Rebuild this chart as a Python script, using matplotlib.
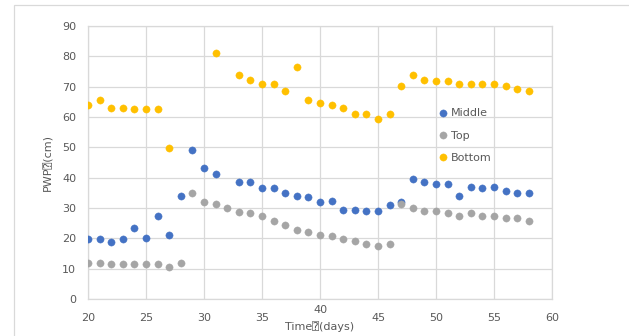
import numpy as np
from matplotlib import pyplot as plt
from matplotlib.patches import Rectangle

nan = np.nan

# measurement days
days = list(range(20, 59))

middle = [19.7, 19.7, 18.7, 19.7, 23.3, 20.2, 27.4, 21.2, 34.0, 49.2,
          43.2, 41.1, nan, 38.6, 38.6, 36.5, 36.5, 35.1, 34.0, 33.5,
          32.0, 32.4, 29.3, 29.3, 28.9, 28.9, 31.0, 32.0, 39.6, 38.6,
          38.0, 38.0, 34.0, 37.0, 36.5, 37.0, 35.5, 34.9, 34.9]

top = [12.0, 12.0, 11.5, 11.5, 11.5, 11.5, 11.5, 10.4, 12.0, 34.9,
       31.9, 31.4, 29.9, 28.8, 28.4, 27.4, 25.8, 24.3, 22.7, 22.2,
       21.2, 20.7, 19.7, 19.1, 18.1, 17.6, 18.1, 31.4, 29.9, 28.9,
       28.9, 28.4, 27.4, 28.4, 27.4, 27.4, 26.8, 26.8, 25.8]

bottom = [64.1, 65.7, 63.1, 63.1, 62.5, 62.5, 62.5, 49.8, nan, nan,
          nan, 81.0, nan, 73.8, 72.3, 70.8, 70.8, 68.7, 76.4, 65.6,
          64.6, 64.1, 63.1, 61.1, 61.1, 59.5, 61.1, 70.2, 73.8, 72.3,
          71.8, 71.8, 70.8, 70.8, 70.8, 70.8, 70.2, 69.2, 68.7]

series = [('Middle', middle, '#4472C4'),
          ('Top', top, '#A5A5A5'),
          ('Bottom', bottom, '#FFC000')]

xticks = [20, 25, 30, 35, 40, 45, 50, 55, 60]
raised_tick = 40

text_col = '#595959'
grid_col = '#D9D9D9'

plt.rcParams['font.family'] = ['DejaVu Sans', 'DejaVu Sans Mono']
plt.rcParams['font.size'] = 8

fig = plt.figure(figsize=(6.29, 3.36), dpi=100)
ax = fig.add_axes([88/629, 1 - 299/336, 464/629, 273/336])

for name, vals, col in series:
    ax.plot(days, vals, linestyle='none', marker='o', markersize=5.2,
            markerfacecolor=col, markeredgecolor=col, markeredgewidth=0.3,
            label=name, zorder=3)

ax.set_xlim(20, 60)
ax.set_ylim(0, 90)
ax.set_xticks(xticks)
ax.set_xticklabels(['' if t == raised_tick else str(t) for t in xticks])
ax.set_yticks(range(0, 91, 10))
ax.grid(True, color=grid_col, linewidth=0.9)
ax.set_axisbelow(True)
for sp in ax.spines.values():
    sp.set_color(grid_col)
    sp.set_linewidth(0.9)
ax.tick_params(length=0, colors=text_col, labelsize=8)
ax.tick_params(axis='y', pad=8.5)
ax.tick_params(axis='x', pad=10)

# the tick label just above the axis title sits a little higher
ax.annotate(str(raised_tick), xy=(raised_tick, 0), xycoords=('data', 'axes fraction'),
            xytext=(0, -4), textcoords='offset points', ha='center', va='top',
            color=text_col, fontsize=8)

ax.set_xlabel('Time\u2370(days)', color=text_col, fontsize=8, labelpad=-1)
ax.set_ylabel('PWP\u2370(cm)', color=text_col, fontsize=8, labelpad=6)

leg = ax.legend(loc='upper left', bbox_to_anchor=(0.755, 0.698), frameon=False,
                borderpad=0, handlelength=0.8, handletextpad=0.3,
                labelspacing=1.1, borderaxespad=0, labelcolor=text_col)

# light outline round the whole chart area
fig.add_artist(Rectangle((14/629, -0.05), 1.0, 1 - 5/336 + 0.05,
                         transform=fig.transFigure, fill=False,
                         edgecolor=grid_col, linewidth=0.9))

fig.savefig('out.png', dpi=100)
